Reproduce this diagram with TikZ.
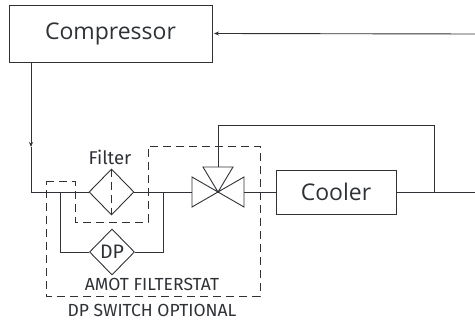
\documentclass[tikz,border=0pt]{standalone}
\usepackage{fontspec}
\setmainfont{Open Sans}
\newfontfamily\labelfont{Fira Sans}
\usetikzlibrary{shapes.geometric,arrows.meta}
\definecolor{ink}{HTML}{2E3236}
\begin{document}
\begin{tikzpicture}[x=1pt,y=-1pt,line width=0.9pt,draw=ink,text=ink,
	box/.style={draw,rectangle,inner sep=0pt,font=\fontsize{23}{26}\selectfont},
	rhomb/.style={draw,diamond,inner sep=0pt,minimum width=45pt,minimum height=46pt},
	small/.style={font=\labelfont\fontsize{17.5}{19}\selectfont},
	flow/.style={-{Stealth[length=5pt,width=4pt]}},
	optional/.style={dash pattern=on 8pt off 5pt}]
\useasboundingbox (0,0) rectangle (475,320);
%\draw[gray,help lines] (0,0) grid[step=20] (475,320);
\node[box,minimum width=203pt,minimum height=57pt] (comp) at (110.5,33.5) {Compressor};
\node[box,minimum width=120pt,minimum height=44pt] (cool) at (336,192) {Cooler};
\node[rhomb] (filt) at (111.5,192) {};
\node[rhomb,font=\labelfont\fontsize{19.5}{20}\selectfont] (dp) at (112,252) {DP};
\draw[optional] (filt.north) -- (filt.south); % filter element
\node[small,font=\labelfont\fontsize{18.5}{20}\selectfont] (filtlbl) at (110,157) {Filter};
% three-way valve
\coordinate (V) at (218,192);
\coordinate (VL) at (192,192);
\coordinate (VR) at (244,192);
\coordinate (VT) at (218,167);
\draw (192,177) -- (192,207) -- (V) -- cycle
	(244,177) -- (244,207) -- (V) -- cycle
	(203,167) -- (233,167) -- (V) -- cycle;
% piping
\coordinate (in) at (475,34);
\coordinate (out) at (475,192);
\coordinate (drop) at (31,147);
\coordinate (J1) at (60,192);
\coordinate (J2) at (163,192);
\coordinate (J3) at (434,192);
\draw[flow] (in) -- (comp.east -| 214,0);
\draw[flow] (comp.south -| drop) -- (drop);
\draw (drop) -- (31,192) -- (filt.west);
\draw (filt.east) -- (VL);
\draw (J1) -- (J1 |- dp) -- (dp.west);
\draw (dp.east) -- (J2 |- dp) -- (J2);
\draw (VR) -- (cool.west);
\draw (cool.east) -- (out);
\draw (J3) -- (434,125) -- (218,125) -- (VT);
% filterstat outline
\draw[optional] (46,181) -- (75,181) -- (75,222) -- (148,222) -- (148,146)
	-- (260,146) -- (260,296) -- (46,296) -- cycle;
\node[small] (amot) at (152,284) {AMOT FILTERSTAT};
\node[small] (dpsw) at (152,310) {DP SWITCH OPTIONAL};
\end{tikzpicture}
\end{document}
